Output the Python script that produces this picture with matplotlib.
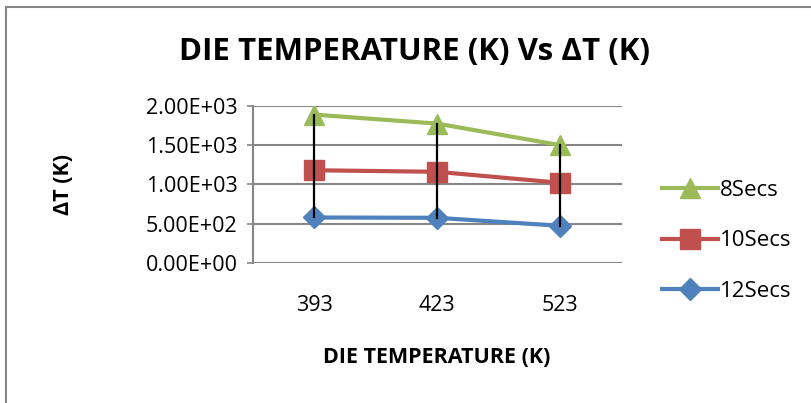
import matplotlib.pyplot as plt
from matplotlib.patches import Rectangle

# data
temps = ['393', '423', '523']
secs8 = [1890, 1775, 1500]
secs10 = [1180, 1160, 1020]
secs12 = [577, 573, 471]

plt.rcParams['font.family'] = ['Open Sans', 'DejaVu Sans']

fig = plt.figure(figsize=(8.12, 4.03), dpi=100)
ax = fig.add_axes([252.7 / 812, 1 - 262.7 / 403, 369 / 812, 156.7 / 403])

x = list(range(len(temps)))

# high-low lines (black) from min to max at each category
for i in x:
    vals = [secs8[i], secs10[i], secs12[i]]
    ax.plot([i, i], [min(vals), max(vals)], color='black', lw=1.6, zorder=5)

ax.plot(x, secs8, color='#9BBB59', lw=3, marker='^', ms=14, label='8Secs', zorder=3)
ax.plot(x, secs10, color='#C0504D', lw=3, marker='s', ms=14, label='10Secs', zorder=3)
ax.plot(x, secs12, color='#4F81BD', lw=3, marker='D', ms=11, label='12Secs', zorder=3)

ax.set_xlim(-0.5, 2.5)
ax.set_ylim(0, 2000)
ax.set_yticks([0, 500, 1000, 1500, 2000])
ax.set_yticklabels(['0.00E+00', '5.00E+02', '1.00E+03', '1.50E+03', '2.00E+03'])
ax.set_xticks(x)
ax.set_xticklabels(temps)
ax.yaxis.grid(True, color='#868686', lw=1.5)
ax.set_axisbelow(True)
for s in ['top', 'right', 'bottom']:
    ax.spines[s].set_visible(False)
ax.spines['left'].set_color('#868686')
ax.spines['left'].set_linewidth(1.5)
ax.tick_params(axis='y', length=4, width=1.2, color='#868686', labelsize=15.5, pad=7)
ax.tick_params(axis='x', length=0, labelsize=15.5, pad=23)

ax.set_ylabel('ΔT (K)', fontsize=15.5, fontweight='bold', va='center')
ax.yaxis.set_label_coords(-0.512, 0.496)
ax.set_xlabel('DIE TEMPERATURE (K)', fontsize=15.5, fontweight='bold', va='center')
ax.xaxis.set_label_coords(0.4995, -0.602)
fig.text(0.511, 0.871, 'DIE TEMPERATURE (K) Vs ΔT (K)', ha='center', va='center',
         fontsize=22.5, fontweight='bold')

handles, labels = ax.get_legend_handles_labels()
fig.legend(handles, labels, loc='center left', bbox_to_anchor=(651 / 812, 1 - 241 / 403),
           frameon=False, fontsize=16, handlelength=2.5, labelspacing=1.32,
           handletextpad=0.1, borderpad=0)

fig.patches.append(Rectangle((6 / 812, -0.1), 1.1, 1 - 7 / 403 + 0.1, transform=fig.transFigure,
                             fill=False, edgecolor='#868686', lw=1.5))

fig.savefig('out.png', dpi=100)
